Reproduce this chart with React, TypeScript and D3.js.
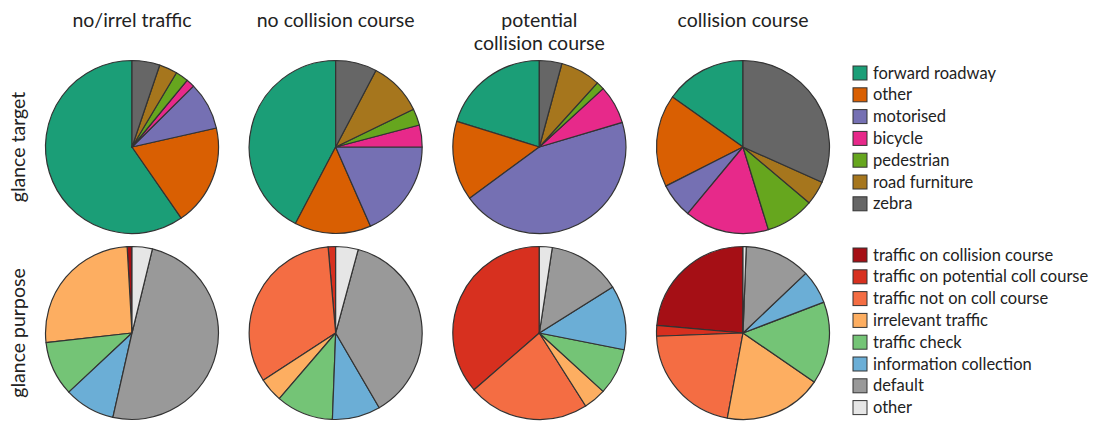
import * as d3 from 'd3'

const columns = ['no/irrel traffic', 'no collision course', 'potential collision course', 'collision course']
const columnTitles = [['no/irrel traffic'], ['no collision course'], ['potential', 'collision course'], ['collision course']]
const rowLabels = ['glance target', 'glance purpose']

// glance target, share (%) per column
const targetCategories = ['forward roadway', 'other', 'motorised', 'bicycle', 'pedestrian', 'road furniture', 'zebra']
const forwardRoadway = [59.7, 42.3, 20.2, 15.2]
const targetOther = [18.9, 14.3, 14.9, 17.3]
const motorised = [8.9, 18.4, 44.5, 6.5]
const bicycle = [1.6, 4.1, 7.2, 15.8]
const pedestrian = [2.4, 3.1, 1.5, 9.1]
const roadFurniture = [3.4, 10.1, 7.5, 4.5]
const zebra = [5.2, 7.7, 4.2, 31.7]
const targetColors = ['#1b9e77', '#d95f02', '#7570b3', '#e7298a', '#66a61e', '#a6761d', '#666666']

// glance purpose, share (%) per column
const purposeCategories = [
  'traffic on collision course',
  'traffic on potential coll course',
  'traffic not on coll course',
  'irrelevant traffic',
  'traffic check',
  'information collection',
  'default',
  'other',
]
const onCollision = [0.9, 0, 0, 23.6]
const onPotential = [0, 1.4, 36.4, 2.0]
const notOnColl = [0, 32.8, 22.6, 21.5]
const irrelevant = [25.9, 4.5, 4.2, 18.3]
const trafficCheck = [10.2, 10.7, 8.7, 15.4]
const infoCollection = [9.5, 9.0, 12.0, 6.3]
const purposeDefault = [49.8, 37.4, 13.7, 12.3]
const purposeOther = [3.8, 4.2, 2.4, 0.6]
const purposeColors = ['#a50f15', '#d7301f', '#f46d43', '#fdae61', '#74c476', '#6baed6', '#999999', '#e6e6e6']

const targetSeries = [forwardRoadway, targetOther, motorised, bicycle, pedestrian, roadFurniture, zebra]
const purposeSeries = [onCollision, onPotential, notOnColl, irrelevant, trafficCheck, infoCollection, purposeDefault, purposeOther]

const width = 1094
const height = 421
const radius = 86.5
const font = 'Lato, "Open Sans", sans-serif'

type Row = {
  categories: string[]
  series: number[][]
  colors: string[]
}

const rows: Row[] = [
  { categories: targetCategories, series: targetSeries, colors: targetColors },
  { categories: purposeCategories, series: purposeSeries, colors: purposeColors },
]

export default function App() {
  const x = d3.scalePoint<string>().domain(columns).range([132, 743])
  const y = d3.scalePoint<string>().domain(rowLabels).range([147, 333])

  // legend order counter-clockwise from 12 o'clock
  const pie = d3
    .pie<{ name: string; value: number; color: string }>()
    .sort(null)
    .value((d) => d.value)
    .startAngle(0)
    .endAngle(-2 * Math.PI)
  const arc = d3.arc<d3.PieArcDatum<{ name: string; value: number; color: string }>>().innerRadius(0).outerRadius(radius)

  const legendY = [73, 255]

  return (
    <div style={{ position: 'absolute', left: 0, top: 0 }}>
      <svg width={width} height={height} style={{ display: 'block', background: 'white' }}>
        {columnTitles.map((lines, i) => (
          <text key={i} x={x(columns[i])} y={27} textAnchor="middle" fontFamily={font} fontSize={19.5} fill="#222">
            {lines.map((l, j) => (
              <tspan key={j} x={x(columns[i])} dy={j === 0 ? 0 : 23}>
                {l}
              </tspan>
            ))}
          </text>
        ))}

        {rowLabels.map((label) => (
          <text
            key={label}
            transform={`translate(25,${y(label)}) rotate(-90)`}
            textAnchor="middle"
            fontFamily={font}
            fontSize={19.5}
            fill="#222"
          >
            {label}
          </text>
        ))}

        {rows.map((row, ri) =>
          columns.map((col, ci) => {
            const items = row.categories
              .map((name, k) => ({ name, value: row.series[k][ci], color: row.colors[k] }))
              .filter((d) => d.value > 0)
            const arcs = pie(items)
            return (
              <g key={`${ri}-${ci}`} transform={`translate(${x(col)},${y(rowLabels[ri])})`}>
                {arcs.map((a) => (
                  <path key={a.data.name} d={arc(a) || ''} fill={a.data.color} stroke="#333" strokeWidth={1.2} strokeLinejoin="round" />
                ))}
              </g>
            )
          }),
        )}

        {rows.map((row, ri) => (
          <g key={`legend-${ri}`} transform={`translate(853,${legendY[ri]})`}>
            {row.categories.map((name, k) => (
              <g key={name} transform={`translate(0,${k * 21.8})`}>
                <rect x={0} y={-7} width={14} height={14} fill={row.colors[k]} stroke="#333" strokeWidth={1} />
                <text x={20} y={5.5} fontFamily={font} fontSize={16.5} fill="#222">
                  {name}
                </text>
              </g>
            ))}
          </g>
        ))}
      </svg>
    </div>
  )
}
